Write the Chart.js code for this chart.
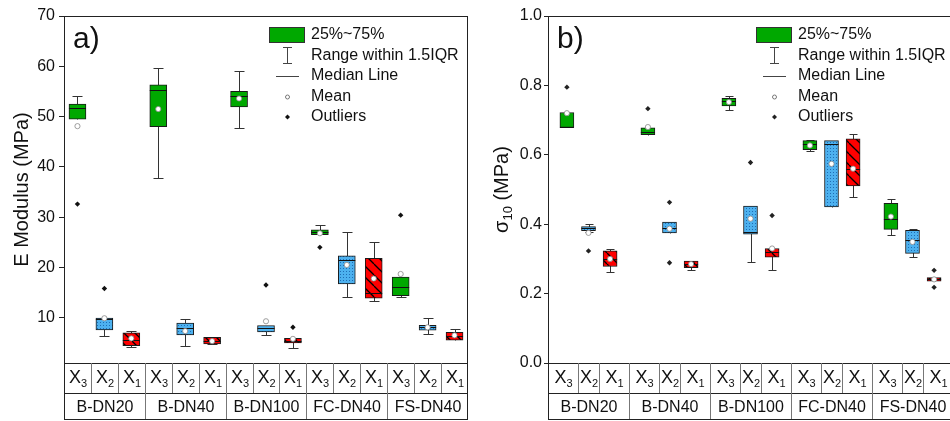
<!DOCTYPE html>
<html>
<head>
<meta charset="utf-8">
<script src="https://cdn.jsdelivr.net/npm/chart.js@4.4.1/dist/chart.umd.min.js"></script>
<style>
  html, body { margin: 0; padding: 0; background: #fff; overflow: hidden; width: 950px; height: 421px; }
  #wrapA { position: absolute; left: 0; top: 0; width: 475px; height: 421px; }
  #wrapB { position: absolute; left: 475px; top: 0; width: 485px; height: 421px; }
</style>
</head>
<body>
<div id="wrapA"><canvas id="chartA" width="475" height="421"></canvas></div>
<div id="wrapB"><canvas id="chartB" width="485" height="421"></canvas></div>
<script>
// groups along the x axis, each one with X3, X2, X1
const groups = ['B-DN20', 'B-DN40', 'B-DN100', 'FC-DN40', 'FS-DN40'];
const subs = ['3', '2', '1'];

// a) E modulus (MPa), order: group0 X3, X2, X1, group1 X3 ...
const eLow  = [49.5, 6.4, 4.2,   37.8, 4.3, 4.7,   47.8, 6.6, 4.0,   26.5, 14.2, 13.4,  14.2, 6.8, 5.55];
const eQ1   = [49.5, 7.6, 4.45,  48.0, 6.6, 4.8,   51.9, 7.2, 5.0,   26.5, 16.7, 13.9,  14.4, 7.55, 5.55];
const eMed  = [51.7, 9.8, 5.5,   55.3, 8.0, 5.4,   54.1, 7.9, 5.4,   27.0, 21.5, 14.9,  16.1, 8.1, 6.4];
const eQ3   = [52.5, 9.95, 7.0,  56.3, 8.95, 6.1,  55.0, 8.45, 5.9,  27.5, 22.3, 21.8,  18.1, 8.5, 7.1];
const eHigh = [54.1, 10.0, 7.4,  59.6, 9.8, 6.2,   59.1, 8.45, 5.9,  28.4, 27.1, 25.0,  18.1, 9.9, 7.75];
const eMean = [48.1, 9.9, 5.9,   51.5, 7.35, 5.35, 53.6, 9.3, 5.8,   26.8, 20.5, 17.8,  18.7, 8.1, 6.5];
const eOutliers = [[0, 32.6], [1, 15.8], [7, 16.5], [8, 8.1], [9, 24.0], [12, 30.4]];
const eTicks = [10, 20, 30, 40, 50, 60, 70];
const eTickLabels = ['10', '20', '30', '40', '50', '60', '70'];

// b) sigma10 (MPa)
const sLow  = [0.679, 0.378, 0.262,  0.658, 0.375, 0.267,  0.728, 0.292, 0.267,  0.610, 0.450, 0.479,  0.369, 0.306, 0.236];
const sQ1   = [0.679, 0.381, 0.278,  0.658, 0.375, 0.275,  0.741, 0.371, 0.305,  0.615, 0.450, 0.510,  0.385, 0.316, 0.236];
const sMed  = [0.681, 0.388, 0.300,  0.667, 0.390, 0.285,  0.755, 0.378, 0.319,  0.630, 0.631, 0.560,  0.416, 0.354, 0.241];
const sQ3   = [0.722, 0.393, 0.323,  0.678, 0.406, 0.294,  0.763, 0.452, 0.330,  0.641, 0.641, 0.646,  0.460, 0.382, 0.246];
const sHigh = [0.722, 0.401, 0.328,  0.678, 0.406, 0.294,  0.769, 0.452, 0.330,  0.643, 0.641, 0.660,  0.473, 0.387, 0.246];
const sMean = [0.720, 0.375, 0.300,  0.680, 0.387, 0.285,  0.752, 0.416, 0.330,  0.627, 0.574, 0.560,  0.422, 0.349, 0.241];
const sOutliers = [[0, 0.795], [1, 0.323], [3, 0.733], [4, 0.463], [4, 0.289], [7, 0.578], [8, 0.425], [14, 0.267], [14, 0.218]];
const sTicks = [0, 0.2, 0.4, 0.6, 0.8, 1.0];
const sTickLabels = ['0.0', '0.2', '0.4', '0.6', '0.8', '1.0'];

const legendItems = ['25%~75%', 'Range within 1.5IQR', 'Median Line', 'Mean', 'Outliers'];

const FONT = '"Liberation Sans", Arial, sans-serif';
const GREEN = '#00a800';

function dotPattern() {
  const c = document.createElement('canvas');
  c.width = 3; c.height = 3;
  const g = c.getContext('2d');
  g.fillStyle = '#4db1ef';
  g.fillRect(0, 0, 3, 3);
  g.fillStyle = '#1f6db4';
  g.fillRect(1, 1, 1, 1);
  return g.createPattern(c, 'repeat');
}

function stripePattern() {
  const s = 11;
  const c = document.createElement('canvas');
  c.width = s; c.height = s;
  const g = c.getContext('2d');
  g.fillStyle = '#ff0000';
  g.fillRect(0, 0, s, s);
  g.strokeStyle = '#000';
  g.lineWidth = 1.3;
  [-s, 0, s].forEach(k => {
    g.beginPath();
    g.moveTo(0, k);
    g.lineTo(s, s + k);
    g.stroke();
  });
  return g.createPattern(c, 'repeat');
}

const fills = [GREEN, dotPattern(), stripePattern()];

// text with a subscript, centered on cx
function subText(ctx, main, sub, cx, y, big, small) {
  ctx.font = big + 'px ' + FONT;
  const w1 = ctx.measureText(main).width;
  ctx.font = small + 'px ' + FONT;
  const w2 = ctx.measureText(sub).width;
  const x0 = cx - (w1 + w2) / 2;
  ctx.font = big + 'px ' + FONT;
  ctx.fillText(main, x0, y);
  ctx.font = small + 'px ' + FONT;
  ctx.fillText(sub, x0 + w1, y + 4);
}

function boxPlugin(o) {
  return {
    id: 'boxes' + o.tag,
    beforeDatasetsDraw(chart) {
      const ctx = chart.ctx, xs = chart.scales.x, ys = chart.scales.y;
      ctx.save();
      ctx.strokeStyle = '#333';
      ctx.lineWidth = 1;
      for (let i = 0; i < o.low.length; i++) {
        const px = Math.round(xs.getPixelForValue(o.pos[i])) + 0.5;
        const yl = Math.round(ys.getPixelForValue(o.low[i])) + 0.5;
        const yh = Math.round(ys.getPixelForValue(o.high[i])) + 0.5;
        ctx.beginPath();
        ctx.moveTo(px, yl);
        ctx.lineTo(px, yh);
        if (o.high[i] > o.q3[i]) { ctx.moveTo(px - o.capW / 2, yh); ctx.lineTo(px + o.capW / 2, yh); }
        if (o.low[i] < o.q1[i]) { ctx.moveTo(px - o.capW / 2, yl); ctx.lineTo(px + o.capW / 2, yl); }
        ctx.stroke();
      }
      ctx.restore();
    },
    afterDatasetDraw(chart, args) {
      if (args.meta.type !== 'bar') return;
      const ctx = chart.ctx, ys = chart.scales.y;
      ctx.save();
      ctx.strokeStyle = '#111';
      ctx.lineWidth = 1;
      args.meta.data.forEach((el, i) => {
        const y = Math.round(ys.getPixelForValue(o.med[i])) + 0.5;
        ctx.beginPath();
        ctx.moveTo(el.x - el.width / 2, y);
        ctx.lineTo(el.x + el.width / 2, y);
        ctx.stroke();
      });
      ctx.restore();
    },
    afterDraw(chart) {
      const ctx = chart.ctx, xs = chart.scales.x;
      const a = chart.chartArea;
      ctx.save();
      // frame
      ctx.strokeStyle = '#222';
      ctx.lineWidth = 1;
      ctx.strokeRect(a.left + 0.5, a.top + 0.5, a.right - a.left - 1, a.bottom - a.top);

      // table under the plot
      const top = a.bottom, mid = a.bottom + 30, bot = a.bottom + 56;
      ctx.beginPath();
      ctx.moveTo(a.left + 0.5, top); ctx.lineTo(a.left + 0.5, bot + 0.5);
      ctx.moveTo(a.right - 0.5, top); ctx.lineTo(a.right - 0.5, bot + 0.5);
      ctx.moveTo(a.left, mid + 0.5); ctx.lineTo(a.right, mid + 0.5);
      ctx.moveTo(a.left, bot + 0.5); ctx.lineTo(a.right, bot + 0.5);
      ctx.stroke();
      ctx.strokeStyle = '#777';
      ctx.fillStyle = '#111';
      ctx.textBaseline = 'alphabetic';
      ctx.textAlign = 'left';
      groups.forEach((name, g) => {
        const p = [0, 1, 2].map(k => o.pos[g * 3 + k]);
        const edges = [g * 3, (p[0] + p[1]) / 2, (p[1] + p[2]) / 2, g * 3 + 3].map(v => Math.round(xs.getPixelForValue(v)) + 0.5);
        ctx.beginPath();
        if (g > 0) { ctx.moveTo(edges[0], top); ctx.lineTo(edges[0], bot); }
        ctx.moveTo(edges[1], top); ctx.lineTo(edges[1], mid);
        ctx.moveTo(edges[2], top); ctx.lineTo(edges[2], mid);
        ctx.stroke();
        for (let k = 0; k < 3; k++) {
          subText(ctx, 'X', subs[k], (edges[k] + edges[k + 1]) / 2, top + 20, 18, 11);
        }
        ctx.font = '16px ' + FONT;
        ctx.textAlign = 'center';
        ctx.fillText(name, (edges[0] + edges[3]) / 2, bot - 7);
        ctx.textAlign = 'left';
      });

      // panel label
      ctx.font = '30px ' + FONT;
      ctx.fillText(o.tag + ')', a.left + 9, a.top + 32);

      // y title
      ctx.save();
      ctx.translate(o.titleX, (a.top + a.bottom) / 2);
      ctx.rotate(-Math.PI / 2);
      ctx.textBaseline = 'middle';
      if (o.titleSub) {
        ctx.font = '20px ' + FONT;
        const w1 = ctx.measureText(o.title).width;
        const w3 = ctx.measureText(o.titleRest).width;
        ctx.font = '13px ' + FONT;
        const w2 = ctx.measureText(o.titleSub).width;
        let x = -(w1 + w2 + w3) / 2;
        ctx.font = '20px ' + FONT;
        ctx.fillText(o.title, x, 0);
        x += w1;
        ctx.font = '13px ' + FONT;
        ctx.fillText(o.titleSub, x, 6);
        x += w2;
        ctx.font = '20px ' + FONT;
        ctx.fillText(o.titleRest, x, 0);
      } else {
        ctx.font = '20px ' + FONT;
        ctx.textAlign = 'center';
        ctx.fillText(o.title, 0, 0);
      }
      ctx.restore();

      // legend
      const lx = o.legendX, cx = lx + 18;
      ctx.fillStyle = GREEN;
      ctx.fillRect(lx, 27, 36, 16);
      ctx.strokeStyle = '#333';
      ctx.strokeRect(lx + 0.5, 27.5, 35, 15);
      ctx.strokeStyle = '#444';
      ctx.beginPath();
      ctx.moveTo(cx + 0.5, 47); ctx.lineTo(cx + 0.5, 64);
      ctx.moveTo(cx - 4, 47.5); ctx.lineTo(cx + 5, 47.5);
      ctx.moveTo(cx - 4, 63.5); ctx.lineTo(cx + 5, 63.5);
      ctx.moveTo(lx + 7, 76.5); ctx.lineTo(lx + 30, 76.5);
      ctx.stroke();
      ctx.fillStyle = '#fff';
      ctx.strokeStyle = '#777';
      ctx.beginPath();
      ctx.arc(cx + 0.5, 97, 2, 0, Math.PI * 2);
      ctx.fill(); ctx.stroke();
      ctx.fillStyle = o.outColor;
      ctx.beginPath();
      ctx.moveTo(cx + 0.5, 114.5); ctx.lineTo(cx + 3, 117); ctx.lineTo(cx + 0.5, 119.5); ctx.lineTo(cx - 2, 117);
      ctx.closePath();
      ctx.fill();
      ctx.fillStyle = '#111';
      ctx.font = '16px ' + FONT;
      ctx.textBaseline = 'middle';
      const ly = [35, 56, 76, 97, 117];
      legendItems.forEach((t, k) => ctx.fillText(t, lx + 42, ly[k]));
      ctx.restore();
    }
  };
}

function makeChart(id, o) {
  const n = o.low.length;
  return new Chart(document.getElementById(id), {
    type: 'bar',
    data: {
      datasets: [
        {
          type: 'bar',
          data: o.pos.map((p, i) => ({ x: p, y: [o.q1[i], o.q3[i]] })),
          backgroundColor: o.pos.map((p, i) => fills[i % 3]),
          borderColor: '#1a1a1a',
          borderWidth: 1,
          borderSkipped: false,
          barThickness: o.boxW,
          grouped: false,
          order: 3
        },
        {
          type: 'scatter',
          data: o.outliers.map(([i, v]) => ({ x: o.pos[i], y: v })),
          pointStyle: 'rectRot',
          pointRadius: 2.7,
          backgroundColor: o.outColor,
          borderWidth: 0,
          order: 2
        },
        {
          type: 'scatter',
          data: o.mean.map((v, i) => ({ x: o.pos[i], y: v })),
          pointStyle: 'circle',
          pointRadius: 2.6,
          backgroundColor: '#fff',
          borderColor: '#888',
          borderWidth: 0.8,
          order: 1
        }
      ]
    },
    options: {
      responsive: false,
      animation: false,
      events: [],
      layout: { padding: { left: 0, top: 16, right: 7, bottom: 58 } },
      plugins: { legend: { display: false }, tooltip: { enabled: false } },
      scales: {
        x: { type: 'linear', min: 0, max: n, display: false, offset: false },
        y: {
          min: o.min,
          max: o.max,
          afterFit(s) { s.width = o.axisW; },
          afterBuildTicks(s) { s.ticks = o.ticks.map(v => ({ value: v })); },
          ticks: {
            font: { family: FONT, size: 16 },
            color: '#111',
            padding: o.tickPad,
            callback: (v, i) => o.tickLabels[i]
          },
          grid: { drawOnChartArea: false, tickLength: o.tickLen, color: '#222' },
          border: { color: '#222' }
        }
      }
    },
    plugins: [boxPlugin(o)]
  });
}

const posA = eLow.map((v, i) => Math.floor(i / 3) * 3 + (i % 3) + 0.5);
const posB = sLow.map((v, i) => Math.floor(i / 3) * 3 + 1.5 + ((i % 3) - 1) * 0.8);

makeChart('chartA', {
  tag: 'a', pos: posA, low: eLow, q1: eQ1, med: eMed, q3: eQ3, high: eHigh, mean: eMean,
  outliers: eOutliers, ticks: eTicks, tickLabels: eTickLabels, min: 1, max: 70,
  axisW: 64, tickLen: 5, tickPad: 4, boxW: 17, capW: 10, outColor: '#111',
  title: 'E Modulus (MPa)', titleX: 22, legendX: 269
});

makeChart('chartB', {
  tag: 'b', pos: posB, low: sLow, q1: sQ1, med: sMed, q3: sQ3, high: sHigh, mean: sMean,
  outliers: sOutliers, ticks: sTicks, tickLabels: sTickLabels, min: 0, max: 1,
  axisW: 73, tickLen: 4, tickPad: 2, boxW: 14, capW: 8, outColor: '#222',
  title: '\u03c3', titleSub: '10', titleRest: ' (MPa)', titleX: 27, legendX: 281
});
</script>
</body>
</html>
